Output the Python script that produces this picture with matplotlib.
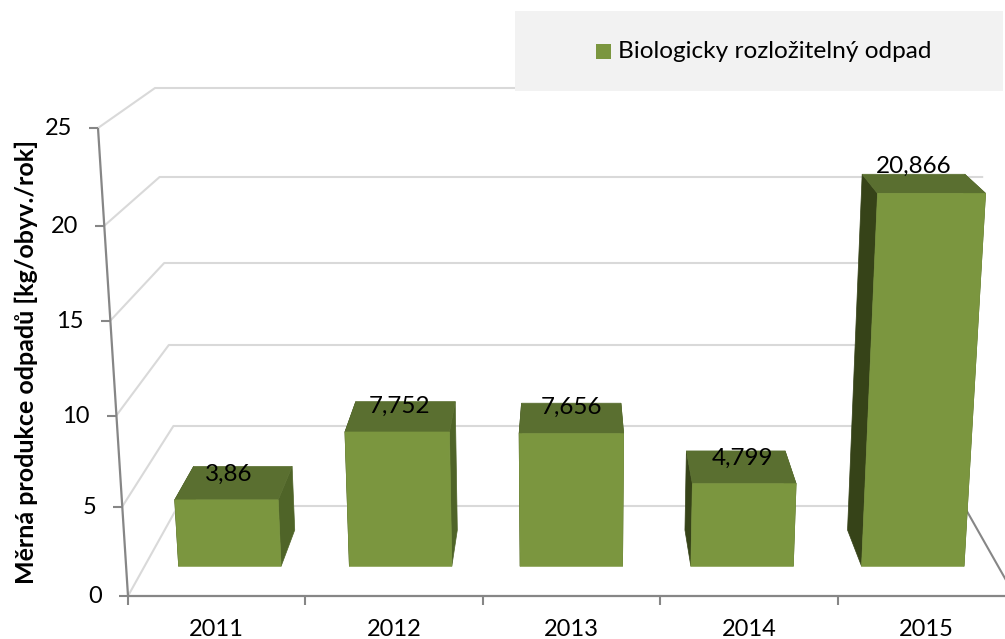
import numpy as np
import matplotlib
matplotlib.use('Agg')
import matplotlib.pyplot as plt
from matplotlib.patches import Polygon, Rectangle

plt.rcParams['font.family'] = ['Lato', 'DejaVu Sans']

## Data ####################################################

years = ['2011', '2012', '2013', '2014', '2015']
values = [3.86, 7.752, 7.656, 4.799, 20.866]
value_labels = ['3,86', '7,752', '7,656', '4,799', '20,866']
y_ticks = [0, 5, 10, 15, 20, 25]
series_name = 'Biologicky rozložitelný odpad'
y_title = 'Měrná produkce odpadů [kg/obyv./rok]'

## Perspective of the chart box (pixels) ###################

FRONT_Y = [596, 507, 416, 321, 226, 128]
BACK_Y = [506, 426, 345, 263, 177, 88]
FRONT_LEFT = (128, -1.2)
BACK_LEFT = (178, -0.92)
FRONT_RIGHT = (1015, 1.2)
BACK_RIGHT = (964, 0.96)

# depth of bar faces, 0 = front of floor, 1 = back wall
BAR_FRONT = 0.33
BAR_BACK = 0.733
BAR_START = 0.2
BAR_END = 0.8

C_FRONT = '#7B963F'
C_TOP = '#5A6F30'
C_RIGHT = '#4F6428'
C_LEFT = '#364318'
C_GRID = '#D9D9D9'
C_AXIS = '#868686'


def project(c, v, d):
    """c = category position, v = value, d = depth"""
    y = (1 - d) * np.interp(v, y_ticks, FRONT_Y) + d * np.interp(v, y_ticks, BACK_Y)
    left = (1 - d) * (FRONT_LEFT[0] + FRONT_LEFT[1] * v) + d * (BACK_LEFT[0] + BACK_LEFT[1] * v)
    right = (1 - d) * (FRONT_RIGHT[0] + FRONT_RIGHT[1] * v) + d * (BACK_RIGHT[0] + BACK_RIGHT[1] * v)
    return left + c / len(years) * (right - left), y


def draw_line(ax, points, color, lw, z=1):
    xs, ys = zip(*points)
    ax.plot(xs, ys, color=color, lw=lw, zorder=z, solid_capstyle='butt')


def draw_face(ax, points, color):
    ax.add_patch(Polygon(points, closed=True, facecolor=color, edgecolor=color,
                         lw=0.5, zorder=3))


fig = plt.figure(figsize=(10.05, 6.39), dpi=100)
ax = fig.add_axes([0, 0, 1, 1])
ax.set_xlim(0, 1005)
ax.set_ylim(639, 0)
ax.axis('off')

n = len(years)

## Walls and grid ##########################################

for v in y_ticks:
    draw_line(ax, [project(0, v, 0), project(0, v, 1), project(n, v, 1)], C_GRID, 1.5)
    x, y = project(0, v, 0)
    draw_line(ax, [(x - 9, y), (x, y)], C_AXIS, 1.5, 2)
    ax.text(x - 26, y + 0.5, str(v), ha='right', va='center', fontsize=17, color='black')

draw_line(ax, [project(0, 0, 0), project(0, 25, 0)], C_AXIS, 1.6, 2)
draw_line(ax, [project(0, 0, 0), project(n, 0, 0)], C_AXIS, 1.6, 2)
draw_line(ax, [project(n, 0, 1), project(n, 0, 0)], C_AXIS, 1.5, 2)

for i in range(n + 1):
    x, y = project(i, 0, 0)
    draw_line(ax, [(x, y), (x, y + 9)], C_AXIS, 1.5, 2)

for i, year in enumerate(years):
    x, y = project(i + 0.5, 0, 0)
    ax.text(x, y + 33, year, ha='center', va='center', fontsize=17, color='black')

## Bars ####################################################

for i, v in enumerate(values):
    c0, c1 = i + BAR_START, i + BAR_END
    # sides first, the front face covers the one that is out of sight
    draw_face(ax, [project(c0, 0, BAR_FRONT), project(c0, 0, BAR_BACK),
                   project(c0, v, BAR_BACK), project(c0, v, BAR_FRONT)], C_LEFT)
    draw_face(ax, [project(c1, 0, BAR_FRONT), project(c1, 0, BAR_BACK),
                   project(c1, v, BAR_BACK), project(c1, v, BAR_FRONT)], C_RIGHT)
    draw_face(ax, [project(c0, v, BAR_FRONT), project(c0, v, BAR_BACK),
                   project(c1, v, BAR_BACK), project(c1, v, BAR_FRONT)], C_TOP)
    draw_face(ax, [project(c0, 0, BAR_FRONT), project(c1, 0, BAR_FRONT),
                   project(c1, v, BAR_FRONT), project(c0, v, BAR_FRONT)], C_FRONT)

    x = project(i + 0.5, 0, 0.3)[0]
    y = project(i, v, BAR_BACK)[1]
    ax.text(x, y + 12 - 0.96 * v, value_labels[i], ha='center', va='center',
            fontsize=17.5, color='black', zorder=5)

## Legend and axis title ###################################

ax.add_patch(Rectangle((515, 11), 488, 80, facecolor='#F2F2F2', edgecolor='none', zorder=6))
ax.add_patch(Rectangle((596, 44), 15, 15, facecolor=C_FRONT, edgecolor='none', zorder=7))
ax.text(618, 52, series_name, ha='left', va='center', fontsize=17.6, color='black', zorder=7)

ax.text(26, 362, y_title, rotation=90, ha='center', va='center', fontsize=18,
        fontweight='bold', color='black')

fig.savefig('out.png', dpi=100)
